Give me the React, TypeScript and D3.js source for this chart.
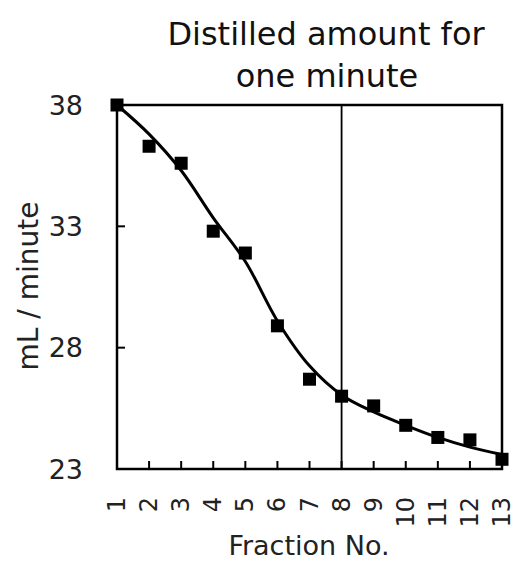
import { useEffect, useRef } from "react";
import * as d3 from "d3";

const fractions = [1, 2, 3, 4, 5, 6, 7, 8, 9, 10, 11, 12, 13];
const measured = [38, 36.3, 35.6, 32.8, 31.9, 28.9, 26.7, 26.0, 25.6, 24.8, 24.3, 24.2, 23.4];
const fitted = [38, 36.8, 35.3, 33.35, 31.55, 29.1, 27.25, 26.05, 25.35, 24.8, 24.3, 23.9, 23.6];
const yTicks = [23, 28, 33, 38];
const markerFraction = 8;

export default function App() {
  const ref = useRef<SVGSVGElement>(null);

  useEffect(() => {
    const width = 520;
    const height = 565;
    const margin = { top: 105, right: 18, bottom: 96, left: 117 };
    const font = "DejaVu Sans, Verdana, sans-serif";

    const svg = d3.select(ref.current);
    svg.selectAll("*").remove();
    svg.attr("width", width).attr("height", height);

    const x = d3.scaleLinear().domain([1, 13]).range([margin.left, width - margin.right]);
    const y = d3.scaleLinear().domain([23, 38]).range([height - margin.bottom, margin.top]);

    // frame
    svg.append("rect")
      .attr("x", x(1))
      .attr("y", y(38))
      .attr("width", x(13) - x(1))
      .attr("height", y(23) - y(38))
      .attr("fill", "none")
      .attr("stroke", "black")
      .attr("stroke-width", 2.5);

    // ticks (inside)
    svg.append("g")
      .selectAll("line")
      .data(fractions)
      .join("line")
      .attr("x1", (d) => x(d))
      .attr("x2", (d) => x(d))
      .attr("y1", y(23))
      .attr("y2", y(23) - 8)
      .attr("stroke", "black")
      .attr("stroke-width", 2);

    svg.append("g")
      .selectAll("line")
      .data(yTicks)
      .join("line")
      .attr("x1", x(1))
      .attr("x2", x(1) + 8)
      .attr("y1", (d) => y(d))
      .attr("y2", (d) => y(d))
      .attr("stroke", "black")
      .attr("stroke-width", 2);

    // tick labels
    svg.append("g")
      .selectAll("text")
      .data(yTicks)
      .join("text")
      .attr("x", 83)
      .attr("y", (d) => y(d))
      .attr("text-anchor", "end")
      .attr("dominant-baseline", "central")
      .attr("font-family", font)
      .attr("font-size", 27)
      .attr("fill", "#222")
      .text((d) => d);

    svg.append("g")
      .selectAll("text")
      .data(fractions)
      .join("text")
      .attr("transform", (d) => `translate(${x(d)},${y(23) + 28}) rotate(-90)`)
      .attr("text-anchor", "end")
      .attr("dominant-baseline", "central")
      .attr("font-family", font)
      .attr("font-size", 24)
      .attr("fill", "#222")
      .text((d) => d);

    // vertical line at fraction 8
    svg.append("line")
      .attr("x1", x(markerFraction))
      .attr("x2", x(markerFraction))
      .attr("y1", y(38))
      .attr("y2", y(23))
      .attr("stroke", "black")
      .attr("stroke-width", 1.8);

    // fitted curve
    const line = d3.line<number>()
      .x((_, i) => x(fractions[i]))
      .y((d) => y(d))
      .curve(d3.curveCatmullRom.alpha(0.5));

    svg.append("path")
      .attr("d", line(fitted))
      .attr("fill", "none")
      .attr("stroke", "black")
      .attr("stroke-width", 3);

    // points
    const s = 13;
    svg.append("g")
      .selectAll("rect")
      .data(measured)
      .join("rect")
      .attr("x", (_, i) => x(fractions[i]) - s / 2)
      .attr("y", (d) => y(d) - s / 2)
      .attr("width", s)
      .attr("height", s)
      .attr("fill", "black");

    // titles
    svg.append("text")
      .attr("x", 326)
      .attr("y", 45)
      .attr("text-anchor", "middle")
      .attr("font-family", font)
      .attr("font-size", 32)
      .attr("fill", "#111")
      .text("Distilled amount for");
    svg.append("text")
      .attr("x", 327)
      .attr("y", 87)
      .attr("text-anchor", "middle")
      .attr("font-family", font)
      .attr("font-size", 32)
      .attr("fill", "#111")
      .text("one minute");

    svg.append("text")
      .attr("x", 309)
      .attr("y", 555)
      .attr("text-anchor", "middle")
      .attr("font-family", font)
      .attr("font-size", 27)
      .attr("fill", "#222")
      .text("Fraction No.");

    svg.append("text")
      .attr("transform", `translate(38,286) rotate(-90)`)
      .attr("text-anchor", "middle")
      .attr("font-family", font)
      .attr("font-size", 28)
      .attr("fill", "#222")
      .text("mL / minute");
  }, []);

  return (
    <div style={{ position: "absolute", left: 0, top: 0 }}>
      <svg ref={ref}></svg>
    </div>
  );
}
